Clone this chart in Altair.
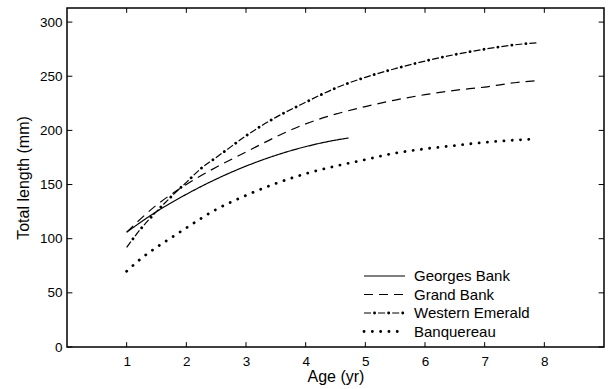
import altair as alt
import pandas as pd

FONT = "Liberation Sans"

series_names = ["Georges Bank", "Grand Bank", "Western Emerald", "Banquereau"]

georges_age = [1, 1.5, 2, 2.5, 3, 3.5, 4, 4.5, 4.72]
georges_len = [106, 125, 141, 155, 167, 177, 185, 191, 193]

grand_age = [1, 1.5, 2, 2.5, 3, 3.5, 4, 4.5, 5, 5.5, 6, 6.5, 7, 7.5, 7.9]
grand_len = [106, 131, 150, 166, 180, 194, 206, 215, 222, 228, 233, 237, 240, 244, 246]

western_age = [1, 1.25, 1.5, 1.75, 2, 2.25, 2.5, 2.75, 3, 3.5, 4, 4.5, 5, 5.5, 6, 6.5, 7, 7.5, 7.9]
western_len = [92, 110, 125, 139, 152, 165, 175, 185, 195, 212, 226, 239, 249, 257, 264, 270, 275, 279, 281]

banq_age = [1, 1.25, 1.5, 1.75, 2, 2.5, 3, 3.5, 4, 4.5, 5, 5.5, 6, 6.5, 7, 7.5, 7.85]
banq_len = [70, 82, 92, 101, 110, 127, 140, 151, 160, 167, 173, 179, 183, 186, 189, 191, 192]

x_ticks = [1, 2, 3, 4, 5, 6, 7, 8]
y_ticks = [0, 50, 100, 150, 200, 250, 300]

series_data = {
    "Georges Bank": (georges_age, georges_len),
    "Grand Bank": (grand_age, grand_len),
    "Western Emerald": (western_age, western_len),
    "Banquereau": (banq_age, banq_len),
}

WE_DASH = [7, 3.5, 0.1, 3.5]
styles = {
    "Georges Bank": dict(dash=[1, 0], width=1.2, cap="butt", dots=None),
    "Grand Bank": dict(dash=[9, 6], width=1.2, cap="butt", dots=None),
    "Western Emerald": dict(dash=WE_DASH, width=1.2, cap="butt",
                            dots=([0.1, sum(WE_DASH) - 0.1], -10.5, 2.8)),
    "Banquereau": dict(dash=[0.1, 8.2], width=2.8, cap="round", dots=None),
}

XMIN, XMAX = 0, 9
YMIN, YMAX = 0, 313

xscale = alt.Scale(domain=[XMIN, XMAX], nice=False, zero=False)
yscale = alt.Scale(domain=[YMIN, YMAX], nice=False, zero=False)

x_axis = alt.Axis(values=x_ticks, format="d", title="Age (yr)", grid=False, domain=False, ticks=False,
                  labelPadding=7, labelFontSize=13.5, titleFontSize=16, titlePadding=1,
                  labelFont=FONT, titleFont=FONT, titleFontWeight="normal",
                  labelColor="black", titleColor="black")
y_axis = alt.Axis(values=y_ticks, format="d", title="Total length (mm)", grid=False, domain=False, ticks=False,
                  labelPadding=5, labelFontSize=13.5, titleFontSize=16, titlePadding=8,
                  labelFont=FONT, titleFont=FONT, titleFontWeight="normal",
                  labelColor="black", titleColor="black")

layers = []
for name in series_names:
    ages, lens = series_data[name]
    d = pd.DataFrame({"age": ages, "length": lens, "series": name})
    st = styles[name]
    base = alt.Chart(d).encode(
        x=alt.X("age:Q", scale=xscale, axis=x_axis),
        y=alt.Y("length:Q", scale=yscale, axis=y_axis),
    )
    layers.append(base.mark_line(color="black", interpolate="monotone", strokeDash=st["dash"],
                                 strokeWidth=st["width"], strokeCap=st["cap"]))
    if st["dots"]:
        dd, off, w = st["dots"]
        layers.append(base.mark_line(color="black", interpolate="monotone", strokeDash=dd,
                                     strokeDashOffset=off, strokeWidth=w, strokeCap="round"))

# inward frame ticks
xt = pd.DataFrame({"age": x_ticks})
yt = pd.DataFrame({"length": y_ticks})
tick_len_y = 4.5
tick_len_x = 0.09
layers += [
    alt.Chart(xt).mark_rule(color="black", strokeWidth=1).encode(
        x=alt.X("age:Q", scale=xscale, axis=x_axis), y=alt.datum(YMIN), y2=alt.datum(YMIN + tick_len_y)),
    alt.Chart(xt).mark_rule(color="black", strokeWidth=1).encode(
        x=alt.X("age:Q", scale=xscale, axis=x_axis), y=alt.datum(YMAX), y2=alt.datum(YMAX - tick_len_y)),
    alt.Chart(yt).mark_rule(color="black", strokeWidth=1).encode(
        y=alt.Y("length:Q", scale=yscale, axis=y_axis), x=alt.datum(XMIN), x2=alt.datum(XMIN + tick_len_x)),
    alt.Chart(yt).mark_rule(color="black", strokeWidth=1).encode(
        y=alt.Y("length:Q", scale=yscale, axis=y_axis), x=alt.datum(XMAX), x2=alt.datum(XMAX - tick_len_x)),
]

# legend (inside the plot, lower right)
LEG_X0, LEG_X1, LEG_TX = 297, 338, 347
LEG_Y0, LEG_DY = 268, 18.5
for i, name in enumerate(series_names):
    st = styles[name]
    yy = LEG_Y0 + LEG_DY * i
    ld = pd.DataFrame({"series": [name]})
    layers.append(alt.Chart(ld).mark_rule(color="black", strokeDash=st["dash"], strokeWidth=st["width"],
                                          strokeCap=st["cap"]).encode(
        x=alt.value(LEG_X0), x2=alt.value(LEG_X1), y=alt.value(yy)))
    if st["dots"]:
        dd, off, w = st["dots"]
        layers.append(alt.Chart(ld).mark_rule(color="black", strokeDash=dd, strokeDashOffset=off,
                                              strokeWidth=w, strokeCap="round").encode(
            x=alt.value(LEG_X0), x2=alt.value(LEG_X1), y=alt.value(yy)))
    layers.append(alt.Chart(ld).mark_text(align="left", baseline="middle", font=FONT, fontSize=15,
                                          color="black").encode(
        x=alt.value(LEG_TX), y=alt.value(yy), text="series:N"))

chart = alt.layer(*layers).properties(
    width=537, height=339,
    autosize=alt.AutoSizeParams(type="none"),
    padding={"left": 67, "top": 8, "right": 4, "bottom": 42},
    background="white",
).configure_view(stroke="black", strokeWidth=1.5)

chart.save("out.html", embed_options={"renderer": "svg", "actions": False})
